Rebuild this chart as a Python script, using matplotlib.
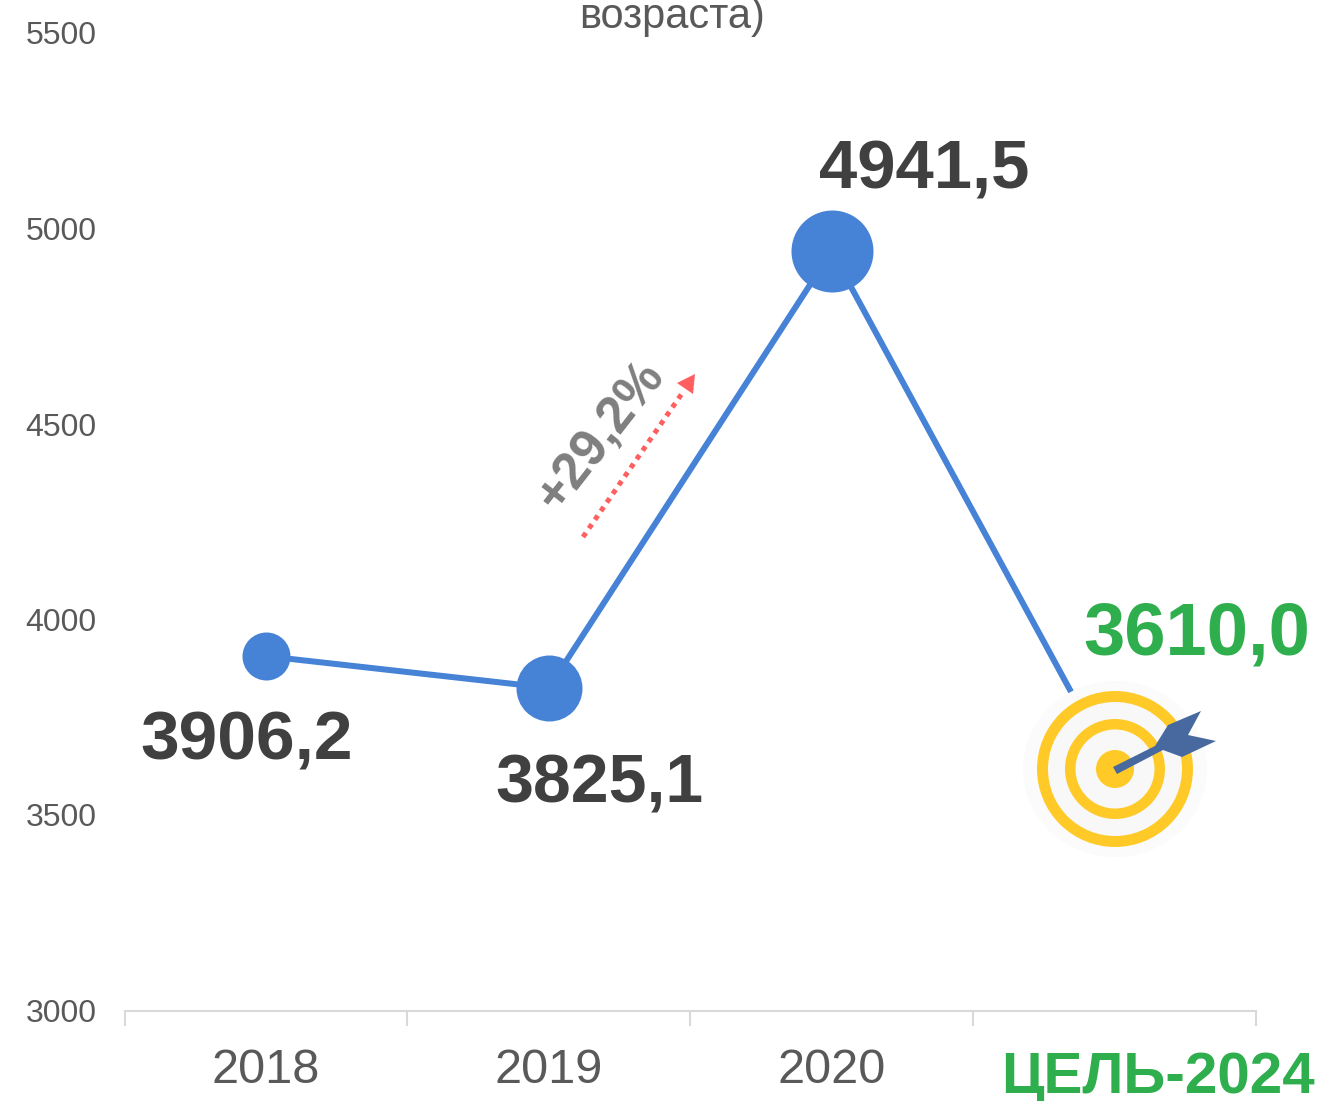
import matplotlib.pyplot as plt
from matplotlib.patches import Circle, Ellipse, Polygon


YEARS = ['2018', '2019', '2020']
TARGET_LABEL = 'ЦЕЛЬ-2024'
VALUES = [3906.2, 3825.1, 4941.5, 3610.0]
VALUE_LABELS = ['3906,2', '3825,1', '4941,5', '3610,0']
MARKER_DIAMETERS = [48, 66, 82]
LABEL_OFFSETS = [(-19, -85), (51, -97), (92, 81), (82, 137)]
LABEL_SIZES = [50, 49, 49.6, 53.5]
Y_TICKS = [3000, 3500, 4000, 4500, 5000, 5500]

W, H = 1320, 1101
BLUE = '#4682D6'
GREEN = '#2FAE4E'
DARK = '#404040'
GREY = '#595959'
PX = 0.72


def draw_target(ax):
    cx, cy = 1115, 769
    ax.add_patch(Ellipse((cx, cy), 184, 176, color='#FBFBFB', lw=0))
    rings = [(78, '#FFCA28'), (67, '#F8F8F8'), (50, '#FFCA28'),
             (39.5, '#F8F8F8'), (19, '#FFCA28')]
    for r, color in rings:
        ax.add_patch(Circle((cx, cy), r, color=color, lw=0))
    dart = [(1113, 767), (1155, 746), (1168, 725), (1201, 711), (1188, 735),
            (1216, 741), (1182, 757), (1163, 750), (1117, 774)]
    ax.add_patch(Polygon(dart, closed=True, color='#47699F', lw=0))


def main():
    plt.rcParams['font.family'] = ['Liberation Sans', 'DejaVu Sans']
    fig = plt.figure(figsize=(W / 100, H / 100), dpi=100)
    ax = fig.add_axes([124.5 / W, 1 - 1010.5 / H, (1256 - 124.5) / W, (1010.5 - 33) / H])

    x = range(len(VALUES))
    ax.plot(x, VALUES, color=BLUE, lw=6 * PX, solid_capstyle='butt', zorder=2)
    for i, d in enumerate(MARKER_DIAMETERS):
        ax.plot(i, VALUES[i], 'o', color=BLUE, ms=d * PX, mew=0, zorder=3)

    ax.set_xlim(-0.5, 3.5)
    ax.set_ylim(3000, 5500)
    ax.set_yticks(Y_TICKS)
    ax.tick_params(axis='y', length=0, pad=20, labelsize=23, labelcolor=GREY)
    ax.set_xticks([-0.5, 0.5, 1.5, 2.5, 3.5])
    ax.set_xticklabels([])
    ax.tick_params(axis='x', which='major', length=15 * PX, width=1.5, color='#D9D9D9')
    ax.set_xticks(range(len(YEARS)), minor=True)
    ax.set_xticklabels(YEARS, minor=True)
    ax.tick_params(axis='x', which='minor', length=0, pad=27, labelsize=35, labelcolor=GREY)
    for side in ['top', 'left', 'right']:
        ax.spines[side].set_visible(False)
    ax.spines['bottom'].set_color('#D9D9D9')
    ax.spines['bottom'].set_linewidth(1.5)

    # overlay in pixel coordinates for the decorations
    over = fig.add_axes([0, 0, 1, 1])
    over.set_xlim(0, W)
    over.set_ylim(H, 0)
    over.axis('off')
    over.patch.set_alpha(0)
    draw_target(over)

    for i, label in enumerate(VALUE_LABELS):
        last = i == len(VALUE_LABELS) - 1
        over.annotate(label, xy=ax.transData.transform((i, VALUES[i])), xycoords='figure pixels',
                      xytext=LABEL_OFFSETS[i], textcoords='offset pixels',
                      ha='center', va='center', fontweight='bold',
                      fontsize=LABEL_SIZES[i], color=GREEN if last else DARK)

    over.text(1158, 1078, TARGET_LABEL, ha='center', va='center', fontsize=42,
              fontweight='bold', color=GREEN)
    over.text(672, 17, 'возраста)', ha='center', va='center', fontsize=30, color=GREY)

    over.plot([583, 683], [537, 392], color='#FF5F5F', lw=5 * PX, ls=(0, (1, 1.1)))
    over.add_patch(Polygon([(677, 383), (695, 374), (693, 394)], closed=True,
                           color='#FF5F5F', lw=0))
    over.text(601, 436, '+29,2%', ha='center', va='center', rotation=52, fontsize=37,
              fontweight='bold', color='#7F7F7F', rotation_mode='anchor')

    fig.savefig('out.png', dpi=100)


if __name__ == "__main__":
    main()
